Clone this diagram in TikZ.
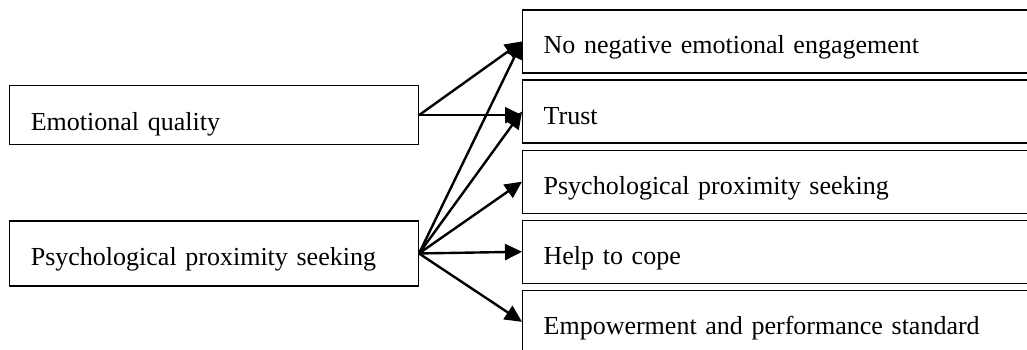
\documentclass[tikz,border=0pt]{standalone}
\usepackage{fontspec}
\setmainfont{Liberation Serif}
\usetikzlibrary{arrows.meta, positioning}

\begin{document}
\begin{tikzpicture}[
  x=0.5pt, y=-0.5pt,
  font=\fontsize{13pt}{16pt}\selectfont,
  >={Triangle[length=8.5pt, width=8pt]},
  node distance=2.9pt,
  lbox/.style={draw, line width=0.65pt, align=left, text width=183pt, inner xsep=10.75pt, inner ysep=0pt, text height=22.5pt},
  rbox/.style={draw, line width=0.65pt, align=left, text width=250pt, inner xsep=10.5pt, inner ysep=0pt, text height=22pt, text depth=9.5pt},
  conn/.style={->, line width=1.2pt},
]
  \clip (0,0) rectangle (1027,349);

  \node[lbox, text depth=7pt, anchor=north west] (EQ) at (8.7,85) {Emotional quality};
  \node[lbox, text depth=10pt, below=37.5pt of EQ] (PPS) {Psychological proximity seeking};

  \node[rbox, anchor=north west] (NNE) at (522,9.3) {No negative emotional engagement};
  \node[rbox, below=of NNE] (Tr) {Trust};
  \node[rbox, below=of Tr] (PPSr) {Psychological proximity seeking};
  \node[rbox, below=of PPSr] (Help) {Help to cope};
  \node[rbox, below=of Help] (Emp) {Empowerment and performance standard};

  \draw[conn] (EQ.east) -- (NNE.west);
  \draw[conn] (EQ.east) -- (Tr.west |- EQ.east);
  \draw[conn] (PPS.east) -- (NNE.west);
  \draw[conn] (PPS.east) -- (Tr.west);
  \draw[conn] (PPS.east) -- (PPSr.west);
  \draw[conn] (PPS.east) -- (Help.west);
  \draw[conn] (PPS.east) -- (Emp.west);
\end{tikzpicture}
\end{document}
